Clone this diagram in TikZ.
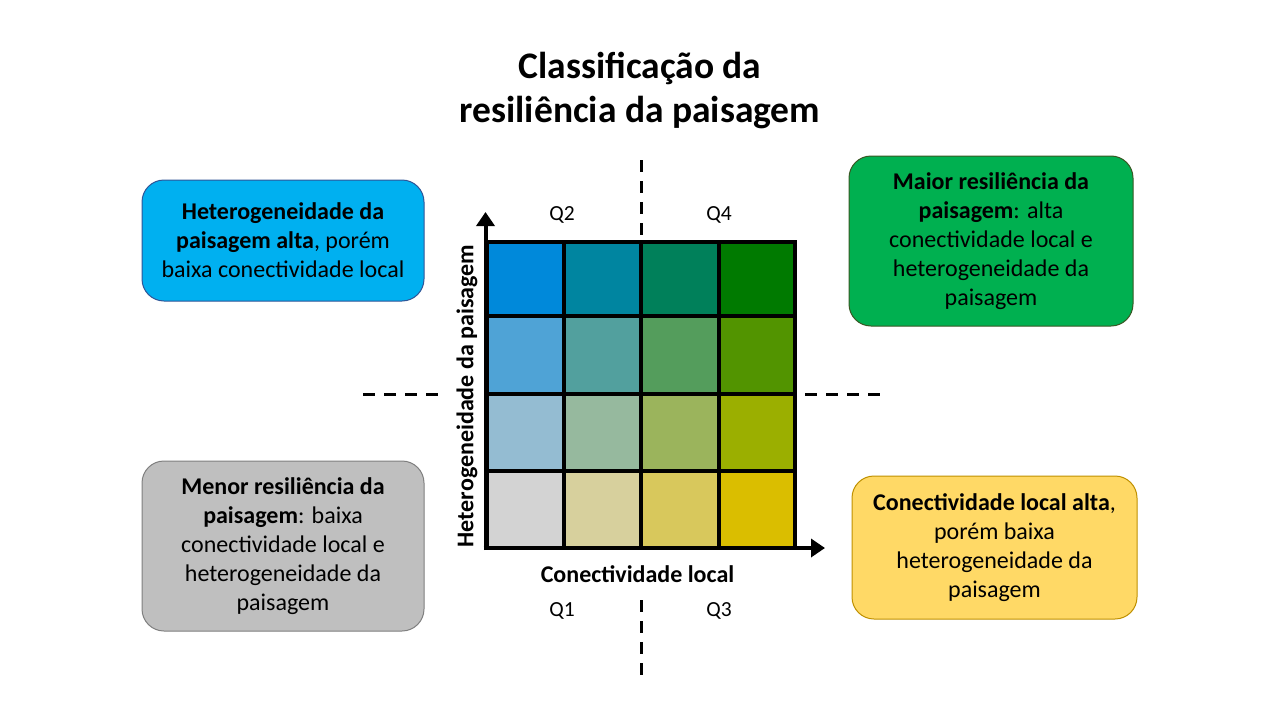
\documentclass[tikz,border=0pt]{standalone}
\usepackage{fontspec}
\setmainfont{Carlito}
\usetikzlibrary{arrows.meta}
\definecolor{bluefill}{RGB}{0,176,240}
\definecolor{blueline}{RGB}{47,85,151}
\definecolor{greenfill}{RGB}{0,176,80}
\definecolor{greenline}{RGB}{56,87,35}
\definecolor{grayfill}{RGB}{191,191,191}
\definecolor{grayline}{RGB}{127,127,127}
\definecolor{yellowfill}{RGB}{255,217,102}
\definecolor{yellowline}{RGB}{191,144,0}
\definecolor{c11}{RGB}{0,137,218}
\definecolor{c12}{RGB}{0,133,160}
\definecolor{c13}{RGB}{0,128,90}
\definecolor{c14}{RGB}{0,122,0}
\definecolor{c21}{RGB}{79,163,214}
\definecolor{c22}{RGB}{82,160,158}
\definecolor{c23}{RGB}{84,157,92}
\definecolor{c24}{RGB}{82,148,0}
\definecolor{c31}{RGB}{148,188,210}
\definecolor{c32}{RGB}{150,185,158}
\definecolor{c33}{RGB}{155,180,92}
\definecolor{c34}{RGB}{155,175,0}
\definecolor{c41}{RGB}{211,211,211}
\definecolor{c42}{RGB}{215,208,157}
\definecolor{c43}{RGB}{216,200,92}
\definecolor{c44}{RGB}{218,190,0}
\tikzset{
  infobox/.style={draw, line width=1pt, rounded corners=22pt, align=center,
    font=\fontsize{24}{29}\selectfont, inner sep=0pt},
  qlabel/.style={font=\fontsize{21.5}{25}\selectfont},
  axislabel/.style={font=\fontsize{24}{28}\selectfont\bfseries},
  quaddash/.style={line width=3pt, dash pattern=on 12pt off 9pt},
  axisline/.style={line width=4pt, -{Triangle[length=14pt,width=18pt]}},
  gridline/.style={line width=4pt},
}
\begin{document}
\begin{tikzpicture}[x=1pt,y=-1pt]
\useasboundingbox (0,0) rectangle (1280,720);

% title
\node[align=center, font=\fontsize{37.5}{44}\selectfont\bfseries] (title) at (640,90)
  {Classificação da\\resiliência da paisagem};

% dashed quadrant lines
\coordinate (vt1) at (641,160);
\coordinate (vt2) at (641,236);
\coordinate (vb1) at (641,600);
\coordinate (vb2) at (641,676);
\coordinate (hl1) at (363,394);
\coordinate (hl2) at (440,394);
\coordinate (hr1) at (805,394);
\coordinate (hr2) at (882,394);
\draw[quaddash] (vt1) -- (vt2);
\draw[quaddash] (vb1) -- (vb2);
\draw[quaddash] (hl1) -- (hl2);
\draw[quaddash] (hr1) -- (hr2);

% grid cells
\foreach \r/\y in {1/242,2/316.5,3/393.5,4/470.5} {
  \foreach \c/\x in {1/487,2/563,3/641,4/719} {
    \fill[c\r\c] (\x,\y) rectangle ++(77,77);
  }
}
% grid lines
\draw[gridline] (487,242) rectangle (795,548);
\foreach \x in {563.5,641,719} \draw[gridline] (\x,242) -- (\x,548);
\foreach \y in {316,393.5,470.5} \draw[gridline] (487,\y) -- (795,\y);

% axes
\coordinate (origin) at (485.5,550);
\coordinate (ytip) at (485.5,212);
\coordinate (xorig) at (483.5,548);
\coordinate (xtip) at (825,548);
\draw[axisline] (origin) -- (ytip);
\draw[axisline] (xorig) -- (xtip);

\node[axislabel, rotate=90] (ylab) at (467,396) {Heterogeneidade da paisagem};
\node[axislabel] (xlab) at (637.5,574) {Conectividade local};

% quadrant labels
\node[qlabel] (q2) at (562,215) {Q2};
\node[qlabel] (q4) at (719,215) {Q4};
\node[qlabel] (q1) at (562,611) {Q1};
\node[qlabel] (q3) at (719,611) {Q3};

% info boxes
\node[infobox, fill=bluefill, draw=blueline, minimum width=282pt, minimum height=121pt] (bq2) at (283,240.5)
  {\textbf{Heterogeneidade da}\\\textbf{paisagem alta}, porém\\baixa conectividade local};
\node[infobox, fill=greenfill, draw=greenline, minimum width=284pt, minimum height=170pt] (bq4) at (991,241)
  {\textbf{Maior resiliência da}\\\textbf{paisagem}: alta\\conectividade local e\\heterogeneidade da\\paisagem};
\node[infobox, fill=grayfill, draw=grayline, minimum width=282pt, minimum height=170pt] (bq1) at (283,546)
  {\textbf{Menor resiliência da}\\\textbf{paisagem}: baixa\\conectividade local e\\heterogeneidade da\\paisagem};
\node[infobox, fill=yellowfill, draw=yellowline, minimum width=285pt, minimum height=143pt] (bq3) at (994.5,547.5)
  {\textbf{Conectividade local alta},\\porém baixa\\heterogeneidade da\\paisagem};
\end{tikzpicture}
\end{document}
